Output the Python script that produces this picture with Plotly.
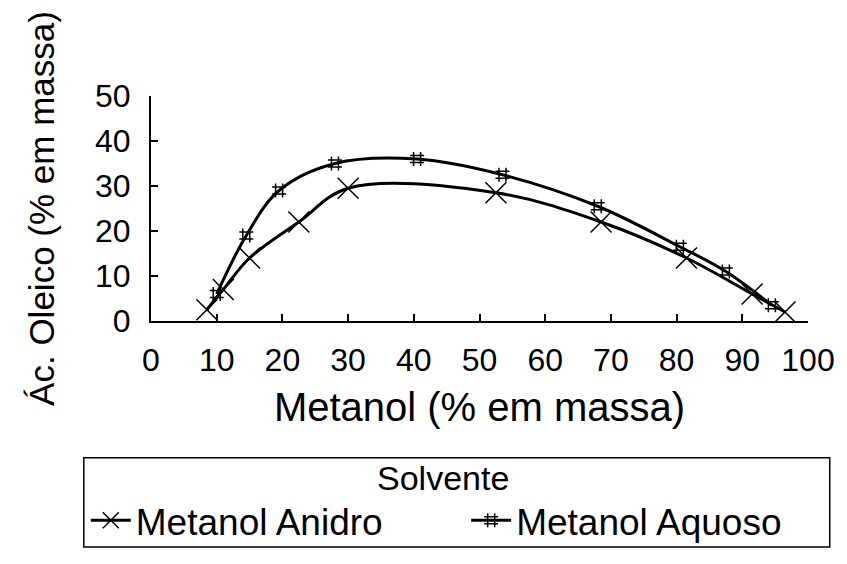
import plotly.graph_objects as go

# Data
anidro_x = [8.5, 11, 15, 22.5, 30, 52.5, 68.5, 81.5, 91.5, 96.5]
anidro_y = [2.5, 7, 14, 22, 29.5, 28.5, 22, 14, 6, 2]
aquoso_x = [10, 14.5, 19.5, 28, 40.5, 53.5, 68, 80.5, 87.5, 94.5]
aquoso_y = [6, 19, 29, 35, 36, 32.5, 25.5, 16.5, 11, 3.5]

x_ticks = [0, 10, 20, 30, 40, 50, 60, 70, 80, 90, 100]
y_ticks = [0, 10, 20, 30, 40, 50]

series_names = ["Metanol Anidro", "Metanol Aquoso"]
legend_title = "Solvente"
x_title = "Metanol (% em massa)"
y_title = "Ác. Oleico (% em massa)"

W, H = 847, 564
L, R, T, B = 151, 31, 96, 236
pw, ph = W - L - R, H - T - B


def px2paper_x(px):
    return (px - L) / pw


def py2paper_y(py):
    return (H - B - py) / ph


FONT = "Liberation Sans, Arial, sans-serif"

fig = go.Figure()
fig.add_trace(go.Scatter(
    x=anidro_x, y=anidro_y, name=series_names[0], mode="lines+markers",
    legend="legend",
    line=dict(color="black", width=3, shape="spline", smoothing=1.0),
    marker=dict(symbol="x-thin-open", size=21, color="black",
                line=dict(color="black", width=1.5)),
))
fig.add_trace(go.Scatter(
    x=aquoso_x, y=aquoso_y, name=series_names[1], mode="lines+markers",
    legend="legend2",
    line=dict(color="black", width=3, shape="spline", smoothing=1.0),
    marker=dict(symbol="hash-open", size=14, color="black",
                line=dict(color="black", width=1.5)),
))

legend_common = dict(
    orientation="h", xanchor="left", yanchor="middle",
    font=dict(size=37, family=FONT, color="black"),
    bgcolor="rgba(0,0,0,0)", borderwidth=0, itemwidth=40,
)

fig.update_layout(
    width=W, height=H,
    margin=dict(l=L, r=R, t=T, b=B),
    paper_bgcolor="white", plot_bgcolor="white",
    font=dict(family=FONT, color="black", size=32),
    showlegend=True,
    legend=dict(x=px2paper_x(85), y=py2paper_y(534), **legend_common),
    legend2=dict(x=px2paper_x(470), y=py2paper_y(534), **legend_common),
    xaxis=dict(
        range=[0, 100], tickvals=x_ticks, ticks="inside", ticklen=7,
        tickwidth=1.5, tickcolor="black", showline=True, linecolor="black",
        linewidth=2, showgrid=False, zeroline=False,
        ticklabelstandoff=10,
        tickfont=dict(size=32, family=FONT),
        title=dict(text=x_title, font=dict(size=40, family=FONT), standoff=16),
    ),
    yaxis=dict(
        range=[0, 50], tickvals=y_ticks, ticks="inside", ticklen=7,
        tickwidth=1.5, tickcolor="black", showline=True, linecolor="black",
        linewidth=2, showgrid=False, zeroline=False,
        ticklabelstandoff=12,
        tickfont=dict(size=32, family=FONT),
        title=dict(text=y_title, font=dict(size=35, family=FONT), standoff=30),
    ),
    shapes=[dict(
        type="rect", xref="paper", yref="paper",
        x0=px2paper_x(83), x1=px2paper_x(838),
        y0=py2paper_y(561), y1=py2paper_y(469),
        line=dict(color="black", width=1.5), fillcolor="rgba(0,0,0,0)",
    )],
    annotations=[dict(
        text=legend_title, xref="paper", yref="paper",
        x=px2paper_x(447), y=py2paper_y(490), xanchor="center", yanchor="middle",
        showarrow=False, font=dict(size=34, family=FONT, color="black"),
    )],
)

fig.write_html("out.html")
